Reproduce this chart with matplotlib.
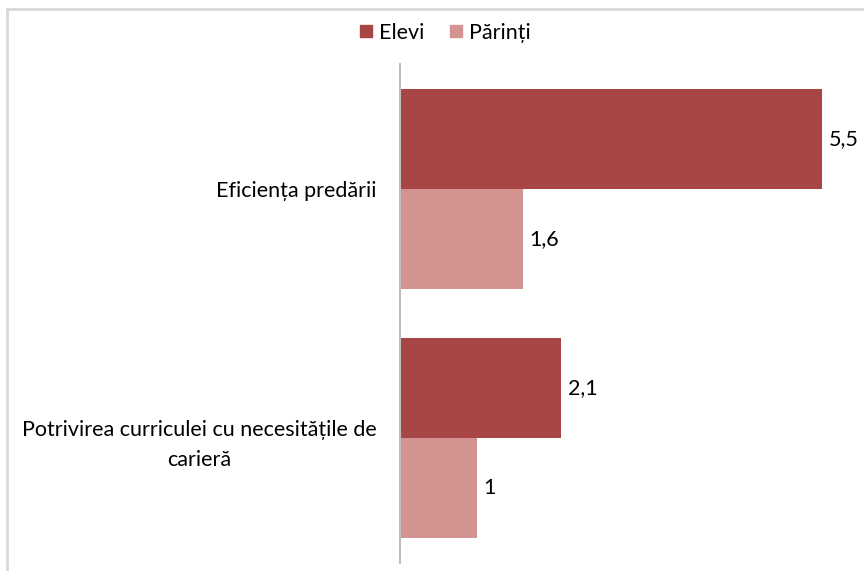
import matplotlib
matplotlib.use("Agg")
import matplotlib.pyplot as plt
from matplotlib.lines import Line2D
import numpy as np

categories = ["Eficiența predării", "Potrivirea curriculei cu necesitățile de\ncarieră"]
series_names = ["Elevi", "Părinți"]
elevi = [5.5, 2.1]
parinti = [1.6, 1.0]
colors = ["#A84646", "#D39391"]

plt.rcParams['font.family'] = ['Lato', 'DejaVu Sans']
FS = 15.5

fig = plt.figure(figsize=(8.64, 5.71), dpi=100)
ax = fig.add_axes([400/864, 1-563/571, 460/864, (563-64)/571])

y = np.arange(len(categories))
h = 0.4
b1 = ax.barh(y - h/2, elevi, height=h, color=colors[0], label=series_names[0])
b2 = ax.barh(y + h/2, parinti, height=h, color=colors[1], label=series_names[1])

for bars, vals in ((b1, elevi), (b2, parinti)):
    for rect, v in zip(bars, vals):
        txt = f"{v:g}".replace(".", ",")
        ax.annotate(txt, (rect.get_width(), rect.get_y() + rect.get_height()/2),
                    xytext=(5, 0), textcoords="offset points", va="center", ha="left",
                    fontsize=FS, color="#000000")

ax.set_ylim(len(categories) - 0.5, -0.5)
ax.set_xlim(0, 6)
ax.set_yticks(y)
ax.set_yticklabels(categories, fontsize=FS, multialignment="center", linespacing=1.6)
ax.tick_params(axis="y", length=0, pad=17)
ax.set_xticks([])
for s in ["top", "right", "bottom"]:
    ax.spines[s].set_visible(False)
ax.spines["left"].set_color("#BFBFBF")
ax.spines["left"].set_linewidth(1.5)

handles = [Line2D([0], [0], marker="s", linestyle="none", markersize=8,
                  markerfacecolor=c, markeredgecolor=c) for c in colors]
fig.legend(handles, series_names, loc="center", bbox_to_anchor=(443/864, 1-33/571),
           ncol=2, frameon=False, fontsize=FS, handletextpad=0.1, columnspacing=1.0,
           handlelength=1.0)

# outer chart border
fig.add_artist(Line2D([7/864, 1], [1-9/571, 1-9/571], color="#D9D9D9", lw=2, transform=fig.transFigure))
fig.add_artist(Line2D([7/864, 7/864], [0, 1-9/571], color="#D9D9D9", lw=2, transform=fig.transFigure))

fig.savefig("out.png", dpi=100)
